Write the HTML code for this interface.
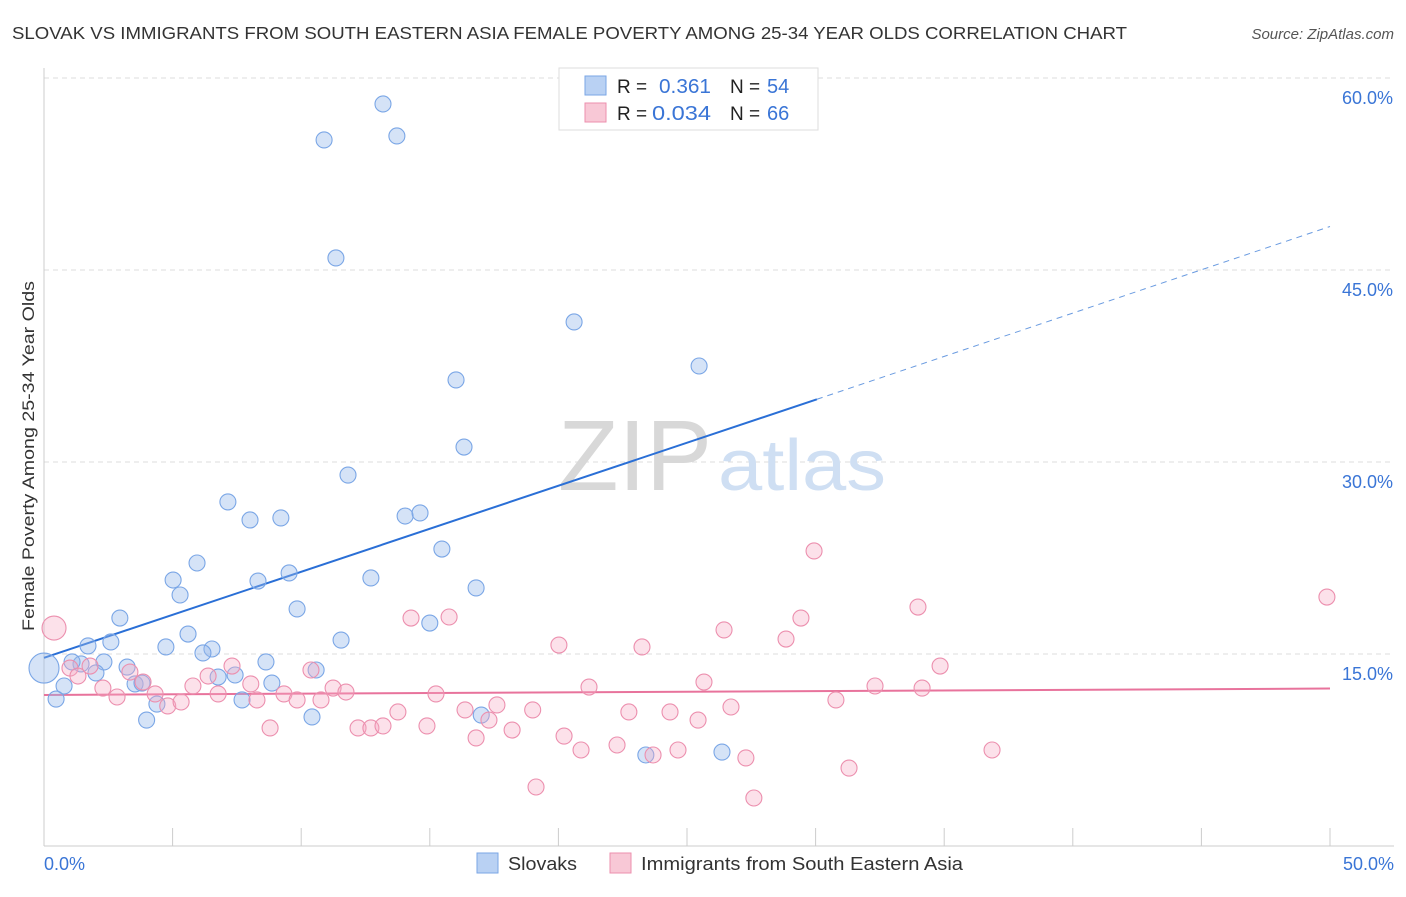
<!DOCTYPE html>
<html><head><meta charset="utf-8"><style>
body{margin:0;background:#fff;font-family:"Liberation Sans",sans-serif;}
svg text{font-family:"Liberation Sans",sans-serif;}
</style></head><body>
<svg width="1406" height="892" xmlns="http://www.w3.org/2000/svg">
<text x="12" y="39" font-size="17.5" fill="#333" textLength="1115" lengthAdjust="spacingAndGlyphs">SLOVAK VS IMMIGRANTS FROM SOUTH EASTERN ASIA FEMALE POVERTY AMONG 25-34 YEAR OLDS CORRELATION CHART</text>
<text x="1394" y="39" font-size="15" fill="#555" text-anchor="end" font-style="italic">Source: ZipAtlas.com</text>
<g id="grid"></g>
<text x="712" y="490" font-size="100" fill="#d8d8d8" text-anchor="end" font-family="Liberation Serif" textLength="154" lengthAdjust="spacingAndGlyphs">ZIP</text>
<text x="718" y="490" font-size="72" fill="#cfdff3" textLength="168" lengthAdjust="spacingAndGlyphs">atlas</text>
<g id="axes"></g>
<g id="lines"></g>
<g id="pts"></g>
<text transform="translate(34,456) rotate(-90)" font-size="17" fill="#333" text-anchor="middle" textLength="350" lengthAdjust="spacingAndGlyphs">Female Poverty Among 25-34 Year Olds</text>
<text x="44" y="870" font-size="18" fill="#3a75d6">0.0%</text>
<text x="1394" y="870" font-size="18" fill="#3a75d6" text-anchor="end">50.0%</text>
<g>
<rect x="559" y="68" width="259" height="62" fill="#fff" stroke="#ddd"/>
<rect x="585" y="76" width="21" height="19" fill="#b9d1f3" stroke="#7aa6e6"/>
<rect x="585" y="103" width="21" height="19" fill="#f8c8d6" stroke="#ec8fae"/>
<text x="617" y="93" font-size="19" fill="#222">R = </text><text x="659" y="93" font-size="20" fill="#3a75d6" textLength="52" lengthAdjust="spacingAndGlyphs">0.361</text>
<text x="730" y="93" font-size="19" fill="#222">N = </text><text x="767" y="93" font-size="20" fill="#3a75d6">54</text>
<text x="617" y="120" font-size="19" fill="#222">R = </text><text x="652" y="120" font-size="20" fill="#3a75d6" textLength="59" lengthAdjust="spacingAndGlyphs">0.034</text>
<text x="730" y="120" font-size="19" fill="#222">N = </text><text x="767" y="120" font-size="20" fill="#3a75d6">66</text>
</g>
<g>
<rect x="477" y="853" width="21" height="20" fill="#b9d1f3" stroke="#7aa6e6"/>
<text x="508" y="870" font-size="18" fill="#333" textLength="69" lengthAdjust="spacingAndGlyphs">Slovaks</text>
<rect x="610" y="853" width="21" height="20" fill="#f8c8d6" stroke="#ec8fae"/>
<text x="641" y="870" font-size="18" fill="#333" textLength="322" lengthAdjust="spacingAndGlyphs">Immigrants from South Eastern Asia</text>
</g>
</svg>
<script>
const yTicks=[15,30,45,60];
const yTickLabels=["15.0%","30.0%","45.0%","60.0%"];
const xTicks=[0,5,10,15,20,25,30,35,40,45,50];
const blueX=[13.18,13.72,10.89,11.35,20.61,16.02,25.47,16.33,11.82,7.15,8.01,9.21,14.04,14.62,15.47,5.95,5.02,5.29,8.32,9.53,12.71,16.8,9.84,2.95,15.0,2.6,1.71,5.6,4.74,6.53,6.18,11.55,1.44,2.33,3.23,2.02,8.63,10.58,6.77,7.43,0.78,3.54,3.81,8.86,0.47,4.39,7.7,3.99,10.42,17.0,23.4,26.36,0,1.09];
const blueY=[57.97,55.47,55.16,45.94,40.94,36.41,37.5,31.17,28.98,26.88,25.47,25.63,25.78,26.02,23.2,22.11,20.78,19.61,20.7,21.33,20.94,20.16,18.52,17.81,17.42,15.94,15.63,16.56,15.55,15.39,15.08,16.09,14.22,14.38,13.98,13.52,14.38,13.75,13.2,13.36,12.5,12.66,12.73,12.73,11.48,11.09,11.41,9.84,10.08,10.23,7.11,7.34,13.9,14.38];
const pinkX=[0.39,1.01,1.32,1.79,2.29,2.84,3.34,3.85,4.32,4.81,5.33,5.79,6.38,6.77,7.31,8.04,8.28,8.79,9.33,9.84,10.38,10.77,11.24,11.74,12.21,12.71,13.18,13.76,14.27,14.89,15.24,15.75,16.37,16.8,17.3,17.61,18.2,19.0,19.13,20.02,20.22,20.88,21.19,22.28,22.74,23.25,23.68,24.34,24.65,25.43,25.66,26.44,26.71,27.29,27.6,28.85,29.43,29.94,30.79,31.3,32.31,33.98,34.14,34.84,36.86,49.88];
const pinkY=[17.03,13.9,13.28,14.06,12.34,11.64,13.59,12.81,11.88,10.94,11.25,12.5,13.28,11.88,14.06,12.66,11.41,9.22,11.88,11.41,13.75,11.41,12.34,12.03,9.22,9.22,9.38,10.47,17.81,9.38,11.88,17.89,10.63,8.44,9.84,11.02,9.06,10.63,4.61,15.7,8.59,7.5,12.42,7.89,10.47,15.55,7.11,10.47,7.5,9.84,12.81,16.88,10.86,6.88,3.75,16.17,17.81,23.05,11.41,6.09,12.5,18.67,12.34,14.06,7.5,19.45];
const blueBig=[52], pinkBig=[0];
const blueTrend=[14.7,34.9,48.4], blueTrendX=[0,30.05,50];
const pinkTrend=[11.8,12.3];
const NS="http://www.w3.org/2000/svg";
const xs=v=>44+v*25.72, ys=v=>846-v*12.8;
function mk(t,a,p){const e=document.createElementNS(NS,t);for(const k in a)e.setAttribute(k,a[k]);p.appendChild(e);return e;}
const grid=document.getElementById('grid'),axes=document.getElementById('axes'),lines=document.getElementById('lines'),pts=document.getElementById('pts');
yTicks.forEach((v,i)=>{
 const l=mk('line',{x1:44,x2:1394,y1:ys(v),y2:ys(v),stroke:'#ddd','stroke-dasharray':'5,4'},grid);
 
 
 const t=mk('text',{x:1393,y:ys(v)+26,'font-size':18,fill:'#3a75d6','text-anchor':'end'},grid);
 t.textContent=yTickLabels[i];
 
 
});
mk('line',{x1:44,x2:44,y1:68,y2:846,stroke:'#ccc'},axes);
mk('line',{x1:44,x2:1394,y1:846,y2:846,stroke:'#ccc'},axes);
xTicks.forEach(v=>{
 const l=mk('line',{x1:xs(v),x2:xs(v),y1:828,y2:846,stroke:'#ccc'},axes);
 
 
});
let e=mk('line',{x1:xs(blueTrendX[0]),y1:ys(blueTrend[0]),x2:xs(blueTrendX[1]),y2:ys(blueTrend[1]),stroke:'#2a6fd6','stroke-width':2},lines);


e=mk('line',{x1:xs(blueTrendX[1]),y1:ys(blueTrend[1]),x2:xs(blueTrendX[2]),y2:ys(blueTrend[2]),stroke:'#6a9be0','stroke-width':1,'stroke-dasharray':'6,5'},lines);


e=mk('line',{x1:xs(0),y1:ys(pinkTrend[0]),x2:xs(50),y2:ys(pinkTrend[1]),stroke:'#e8739c','stroke-width':2},lines);


blueX.forEach((x,i)=>{
 const c=mk('circle',{cx:xs(x),cy:ys(blueY[i]),r:blueBig.includes(i)?15:8,fill:'rgba(150,185,235,0.4)',stroke:'#7aa6e6','stroke-width':1.1},pts);
 
 
});
pinkX.forEach((x,i)=>{
 const c=mk('circle',{cx:xs(x),cy:ys(pinkY[i]),r:pinkBig.includes(i)?12:8,fill:'rgba(245,170,195,0.35)',stroke:'#ec8fae','stroke-width':1.1},pts);
 
 
});
</script>
</body></html>
